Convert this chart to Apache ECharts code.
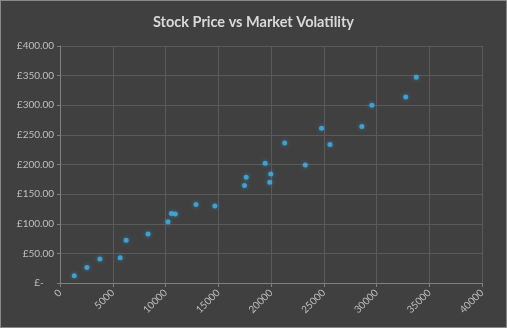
<!DOCTYPE html>
<html><head><meta charset="utf-8">
<script src="https://cdn.jsdelivr.net/npm/echarts@6/dist/echarts.min.js"></script>
<style>html,body{margin:0;padding:0;background:#404040;}#c{width:507px;height:328px;box-sizing:border-box;border:1px solid #8a8a8a;}</style>
</head><body><div id="c"></div>
<script>
var volatility = [1350, 2550, 3780, 5700, 6270, 8350, 10240, 10560, 10930, 12890, 14680, 17490, 17650, 19450, 19980, 19880, 21300, 23250, 24790, 25590, 28610, 29560, 32770, 33770];
var price = [12.4, 26.3, 40.3, 42.6, 72.1, 82.9, 103.5, 117.4, 116.4, 132.6, 129.9, 164.4, 178.5, 202.0, 184.0, 170.1, 236.1, 199.2, 261.2, 233.9, 264.1, 299.8, 313.8, 347.3];
var xTicks = {min: 0, max: 40000, interval: 5000};
var yTicks = {min: 0, max: 400, interval: 50};

var points = volatility.map(function (v, i) { return [v, price[i]]; });
var chart = echarts.init(document.getElementById('c'), null, {renderer: 'canvas'});
var font = 'Lato, "Open Sans", sans-serif';
chart.setOption({
  backgroundColor: '#404040',
  animation: false,
  title: {
    text: 'Stock Price vs Market Volatility', left: 'center', top: 9,
    textStyle: {color: '#d9d9d9', fontSize: 14.5, fontWeight: 'bold', fontFamily: font}
  },
  grid: {left: 59, right: 24, top: 45, bottom: 44},
  xAxis: {
    type: 'value', min: xTicks.min, max: xTicks.max, interval: xTicks.interval,
    axisLine: {show: true, lineStyle: {color: '#7f7f7f', width: 1}},
    axisTick: {show: true, length: 4, lineStyle: {color: '#7f7f7f'}},
    splitLine: {show: true, lineStyle: {color: '#5a5a5a', width: 1}},
    axisLabel: {color: '#bfbfbf', fontSize: 10, fontFamily: font, rotate: 45, margin: 8,
      formatter: function (v) { return String(v); }}
  },
  yAxis: {
    type: 'value', min: yTicks.min, max: yTicks.max, interval: yTicks.interval,
    axisLine: {show: true, lineStyle: {color: '#7f7f7f', width: 1}},
    axisTick: {show: true, length: 3, lineStyle: {color: '#7f7f7f'}},
    splitLine: {show: true, lineStyle: {color: '#5a5a5a', width: 1}},
    axisLabel: {
      color: '#bfbfbf', fontSize: 10, fontFamily: font, margin: 6,
      formatter: function (v) { return v === 0 ? '£-    ' : '£' + v.toFixed(2); }
    }
  },
  series: [{
    type: 'scatter', data: points, symbol: 'circle', symbolSize: 5,
    itemStyle: {color: '#3db4ec', shadowBlur: 4, shadowColor: 'rgba(61,180,236,0.6)'}
  }]
});
</script></body></html>
